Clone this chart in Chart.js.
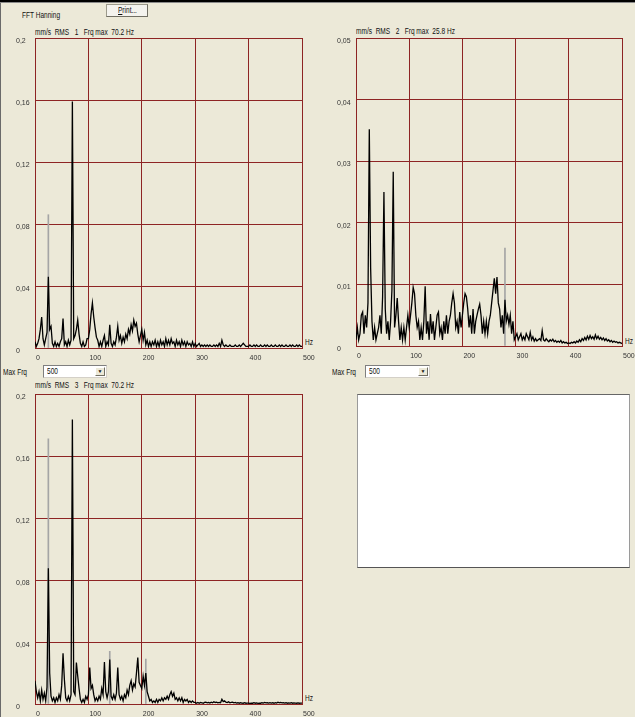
<!DOCTYPE html>
<html>
<head>
<meta charset="utf-8">
<script src="https://cdn.jsdelivr.net/npm/chart.js@4.4.1/dist/chart.umd.min.js"></script>
<style>
  body { margin: 0; width: 635px; height: 717px; background: #ece9d8; position: relative; overflow: hidden;
         font-family: Arial, 'Liberation Sans', sans-serif; font-size: 8.5px; color: #111; }
  .abs { position: absolute; white-space: pre; }
  .sq { transform: scaleX(0.77); transform-origin: 0 0; }
  canvas { position: absolute; }
  .btn { position: absolute; box-sizing: border-box; background: #f4f3ee; border: 1px solid #9c9a8c;
         border-right-color: #716f64; border-bottom-color: #716f64; text-align: center; line-height: 11px; }
  .combo { position: absolute; box-sizing: border-box; background: #fff; border: 1px solid #7f7f7f;
           border-right-color: #d4d0c8; border-bottom-color: #d4d0c8; height: 13px; line-height: 11px; padding-left: 3px; }
  .arrow { position: absolute; right: 1px; top: 1px; width: 10px; height: 9px; box-sizing: border-box; background: #ece9d8;
           border: 1px solid #fff; border-right-color: #716f64; border-bottom-color: #716f64; font-size: 5px; line-height: 7px; text-align: center; }
  .panel { position: absolute; box-sizing: border-box; background: #fff; border: 1px solid #9a9a9a;
           border-bottom-color: #555; border-top-color: #666; }
</style>
</head>
<body>
<div class="abs" style="left:0;top:0;width:635px;height:2px;background:#000"></div>
<div class="abs" style="left:0;top:2px;width:635px;height:1px;background:#8a8a8a"></div>
<div class="abs" style="left:0;top:3px;width:1px;height:714px;background:#6a6a6a"></div>

<div class="abs sq" style="left:22px;top:10px">FFT Hanning</div>
<div class="btn" style="left:106px;top:4px;width:42px;height:13px"><span class="abs sq" style="left:11px;top:0"><u>P</u>rint...</span></div>

<div class="abs sq" style="left:35px;top:27px">mm/s  RMS   1   Frq max  70.2 Hz</div>
<div class="abs sq" style="left:356px;top:26px">mm/s  RMS   2   Frq max  25.8 Hz</div>
<div class="abs sq" style="left:35px;top:380px">mm/s  RMS   3   Frq max  70.2 Hz</div>

<div class="abs sq" style="left:305px;top:337px">Hz</div>
<div class="abs sq" style="left:625px;top:336px">Hz</div>
<div class="abs sq" style="left:305px;top:693px">Hz</div>

<div class="abs sq" style="left:3px;top:367px">Max Frq</div>
<div class="combo" style="left:43px;top:365px;width:64px"><span class="abs sq" style="left:3px;top:0">500</span><div class="arrow">&#9660;</div></div>
<div class="abs sq" style="left:332px;top:367px">Max Frq</div>
<div class="combo" style="left:365px;top:365px;width:65px"><span class="abs sq" style="left:3px;top:0">500</span><div class="arrow">&#9660;</div></div>

<div class="panel" style="left:357px;top:394px;width:273px;height:174px"></div>

<canvas id="spec1" width="320" height="340" style="left:0;top:30px"></canvas>
<canvas id="spec2" width="315" height="340" style="left:320px;top:30px"></canvas>
<canvas id="spec3" width="320" height="331" style="left:0;top:386px"></canvas>

<script>
// frequency bins, Hz
const freqHz = [
  0, 2.5, 5, 7.5, 10, 12.5, 15, 17.5, 20, 22.5, 25, 27.5, 30, 32.5, 35, 37.5, 40, 42.5, 45, 47.5,
  50, 52.5, 55, 57.5, 60, 62.5, 65, 67.5, 70, 72.5, 75, 77.5, 80, 82.5, 85, 87.5, 90, 92.5, 95, 97.5,
  100, 102.5, 105, 107.5, 110, 112.5, 115, 117.5, 120, 122.5, 125, 127.5, 130, 132.5, 135, 137.5, 140, 142.5, 145, 147.5,
  150, 152.5, 155, 157.5, 160, 162.5, 165, 167.5, 170, 172.5, 175, 177.5, 180, 182.5, 185, 187.5, 190, 192.5, 195, 197.5,
  200, 202.5, 205, 207.5, 210, 212.5, 215, 217.5, 220, 222.5, 225, 227.5, 230, 232.5, 235, 237.5, 240, 242.5, 245, 247.5,
  250, 252.5, 255, 257.5, 260, 262.5, 265, 267.5, 270, 272.5, 275, 277.5, 280, 282.5, 285, 287.5, 290, 292.5, 295, 297.5,
  300, 302.5, 305, 307.5, 310, 312.5, 315, 317.5, 320, 322.5, 325, 327.5, 330, 332.5, 335, 337.5, 340, 342.5, 345, 347.5,
  350, 352.5, 355, 357.5, 360, 362.5, 365, 367.5, 370, 372.5, 375, 377.5, 380, 382.5, 385, 387.5, 390, 392.5, 395, 397.5,
  400, 402.5, 405, 407.5, 410, 412.5, 415, 417.5, 420, 422.5, 425, 427.5, 430, 432.5, 435, 437.5, 440, 442.5, 445, 447.5,
  450, 452.5, 455, 457.5, 460, 462.5, 465, 467.5, 470, 472.5, 475, 477.5, 480, 482.5, 485, 487.5, 490, 492.5, 495, 497.5,
  500
];

// channel 1, mm/s RMS
const rms1 = [
  0.004, 0.001, 0.003, 0.006, 0.012, 0.020, 0.006, 0.002, 0.006, 0.010, 0.046, 0.012, 0.014, 0.003, 0.001, 0.004, 0.001, 0.003, 0.001, 0.004,
  0.006, 0.019, 0.002, 0.004, 0.001, 0.005, 0.002, 0.005, 0.159, 0.006, 0.008, 0.012, 0.018, 0.009, 0.003, 0.001, 0.004, 0.001, 0.002, 0.006,
  0.006, 0.012, 0.022, 0.029, 0.020, 0.013, 0.007, 0.005, 0.001, 0.004, 0.001, 0.005, 0.008, 0.001, 0.004, 0.002, 0.015, 0.003, 0.001, 0.004,
  0.002, 0.007, 0.014, 0.005, 0.008, 0.003, 0.007, 0.004, 0.009, 0.006, 0.012, 0.009, 0.015, 0.011, 0.018, 0.014, 0.016, 0.009, 0.004, 0.008,
  0.012, 0.005, 0.010, 0.002, 0.005, 0.001, 0.004, 0.001, 0.004, 0.002, 0.005, 0.001, 0.004, 0.001, 0.005, 0.002, 0.004, 0.001, 0.006, 0.002,
  0.005, 0.002, 0.006, 0.003, 0.004, 0.001, 0.005, 0.002, 0.004, 0.001, 0.005, 0.002, 0.004, 0.001, 0.004, 0.002, 0.003, 0.001, 0.004, 0.001,
  0.003, 0.001, 0.002, 0.003, 0.001, 0.002, 0.001, 0.002, 0.001, 0.002, 0.001, 0.002, 0.001, 0.001, 0.002, 0.001, 0.002, 0.001, 0.003, 0.001,
  0.005, 0.002, 0.001, 0.002, 0.001, 0.001, 0.002, 0.001, 0.001, 0.001, 0.002, 0.001, 0.001, 0.002, 0.001, 0.002, 0.003, 0.002, 0.001, 0.001,
  0.001, 0.002, 0.001, 0.001, 0.002, 0.001, 0.002, 0.001, 0.001, 0.002, 0.001, 0.001, 0.002, 0.001, 0.002, 0.001, 0.001, 0.002, 0.001, 0.001,
  0.002, 0.001, 0.001, 0.002, 0.001, 0.002, 0.001, 0.001, 0.002, 0.001, 0.001, 0.002, 0.001, 0.002, 0.001, 0.001, 0.002, 0.001, 0.002, 0.001,
  0.001
];

// channel 2, mm/s RMS
const rms2 = [
  0.001, 0.003, 0.001, 0.002, 0.005, 0.0055, 0.002, 0.005, 0.003, 0.007, 0.0352, 0.0127, 0.004, 0.001, 0.003, 0.001, 0.002, 0.003, 0.005, 0.002,
  0.008, 0.025, 0.006, 0.002, 0.004, 0.001, 0.004, 0.009, 0.0283, 0.003, 0.005, 0.0078, 0.004, 0.001, 0.003, 0.001, 0.003, 0.001, 0.003, 0.005,
  0.003, 0.005, 0.007, 0.0095, 0.0085, 0.005, 0.003, 0.004, 0.001, 0.003, 0.001, 0.004, 0.0097, 0.002, 0.004, 0.001, 0.0052, 0.002, 0.004, 0.001,
  0.003, 0.005, 0.0055, 0.002, 0.003, 0.001, 0.004, 0.002, 0.005, 0.002, 0.004, 0.005, 0.007, 0.0085, 0.007, 0.003, 0.004, 0.002, 0.0055, 0.003,
  0.005, 0.007, 0.0085, 0.008, 0.006, 0.003, 0.005, 0.002, 0.006, 0.002, 0.004, 0.005, 0.006, 0.0068, 0.005, 0.002, 0.004, 0.002, 0.004, 0.002,
  0.004, 0.005, 0.007, 0.009, 0.011, 0.0085, 0.0112, 0.007, 0.006, 0.003, 0.005, 0.002, 0.0075, 0.004, 0.005, 0.0035, 0.005, 0.002, 0.004, 0.001,
  0.0015, 0.002, 0.001, 0.0015, 0.002, 0.001, 0.0015, 0.001, 0.002, 0.0015, 0.001, 0.0022, 0.001, 0.0015, 0.0008, 0.0012, 0.0008, 0.001, 0.0012, 0.0009,
  0.0025, 0.001, 0.0008, 0.0012, 0.0009, 0.0007, 0.001, 0.0008, 0.0011, 0.0007, 0.0009, 0.0006, 0.0008, 0.0006, 0.0009, 0.0005, 0.0007, 0.0005, 0.0006, 0.0004,
  0.0005, 0.0004, 0.0006, 0.0005, 0.0007, 0.0005, 0.0008, 0.0006, 0.001, 0.0007, 0.0012, 0.0009, 0.0014, 0.001, 0.0016, 0.0011, 0.0017, 0.0012, 0.0015, 0.0011,
  0.0018, 0.0012, 0.0016, 0.0011, 0.0014, 0.001, 0.0013, 0.0009, 0.0012, 0.0008, 0.001, 0.0007, 0.0009, 0.0006, 0.0008, 0.0006, 0.0007, 0.0005, 0.0006, 0.0005,
  0.0004
];

// channel 3, mm/s RMS
const rms3 = [
  0.015, 0.008, 0.004, 0.008, 0.002, 0.009, 0.003, 0.007, 0.002, 0.011, 0.0875, 0.020, 0.005, 0.002, 0.004, 0.001, 0.004, 0.002, 0.006, 0.003,
  0.012, 0.0327, 0.016, 0.004, 0.002, 0.005, 0.002, 0.006, 0.1836, 0.008, 0.006, 0.0267, 0.018, 0.010, 0.003, 0.001, 0.003, 0.001, 0.005, 0.003,
  0.006, 0.0236, 0.010, 0.012, 0.006, 0.002, 0.004, 0.002, 0.005, 0.003, 0.010, 0.006, 0.027, 0.008, 0.004, 0.008, 0.0287, 0.005, 0.003, 0.006,
  0.003, 0.007, 0.0236, 0.006, 0.003, 0.005, 0.002, 0.006, 0.004, 0.009, 0.006, 0.012, 0.015, 0.009, 0.013, 0.011, 0.020, 0.030, 0.014, 0.012,
  0.010, 0.018, 0.012, 0.020, 0.008, 0.005, 0.002, 0.003, 0.001, 0.002, 0.001, 0.003, 0.001, 0.003, 0.002, 0.004, 0.002, 0.004, 0.003, 0.005,
  0.003, 0.006, 0.008, 0.005, 0.007, 0.003, 0.004, 0.002, 0.004, 0.002, 0.004, 0.001, 0.003, 0.002, 0.003, 0.001, 0.002, 0.001, 0.002, 0.001,
  0.001, 0.0005, 0.001, 0.0005, 0.001, 0.0008, 0.0005, 0.001, 0.0012, 0.0008, 0.001, 0.0006, 0.0012, 0.0008, 0.0015, 0.001, 0.0012, 0.0008, 0.001, 0.0008,
  0.003, 0.0015, 0.002, 0.0012, 0.001, 0.0015, 0.0008, 0.001, 0.0012, 0.0008, 0.001, 0.0006, 0.0008, 0.0005, 0.0008, 0.0006, 0.0005, 0.0008, 0.0005, 0.0006,
  0.0006, 0.0004, 0.0006, 0.0005, 0.0008, 0.0005, 0.0007, 0.0004, 0.0006, 0.0005, 0.0008, 0.0006, 0.001, 0.0007, 0.0008, 0.0006, 0.0009, 0.0006, 0.0008, 0.0005,
  0.0009, 0.0006, 0.0012, 0.0008, 0.001, 0.0007, 0.0009, 0.0006, 0.0008, 0.0005, 0.0007, 0.0006, 0.0008, 0.0005, 0.0007, 0.0006, 0.0005, 0.0007, 0.0005, 0.0006,
  0.0005
];

// peak-hold lines shown in grey behind the live trace
const holdHz1 = [25];
const holdVal1 = [0.086];
const holdHz2 = [280];
const holdVal2 = [0.0159];
const holdHz3 = [25, 140, 207.5];
const holdVal3 = [0.171, 0.034, 0.029];

const xTicks = [0, 100, 200, 300, 400, 500];
const xLabels = ['0', '100', '200', '300', '400', '500'];
const yTicks1 = [0, 0.04, 0.08, 0.12, 0.16, 0.2];
const yLabels1 = ['0', '0,04', '0,08', '0,12', '0,16', '0,2'];
const yTicks2 = [0, 0.01, 0.02, 0.03, 0.04, 0.05];
const yLabels2 = ['0', '0,01', '0,02', '0,03', '0,04', '0,05'];

const gridRed = '#8e2424';
const tickFont = { family: "Arial, 'Liberation Sans', sans-serif", size: 7 };

function spectrum(id, values, holdHz, holdVal, yTicks, yLabels, box) {
  const trace = values.map((v, i) => ({ x: freqHz[i], y: v }));
  const hold = holdHz.map((f, i) => ({ x: f, y: holdVal[i] }));

  return new Chart(document.getElementById(id), {
    type: 'line',
    data: {
      datasets: [
        { data: trace, borderColor: '#000', borderWidth: 1.3, pointRadius: 0, tension: 0 },
        { type: 'bar', data: hold, backgroundColor: '#a5a5a5', barThickness: 1 }
      ]
    },
    options: {
      responsive: false,
      animation: false,
      events: [],
      layout: { padding: box.padding },
      plugins: { legend: { display: false }, tooltip: { enabled: false } },
      scales: {
        x: {
          type: 'linear',
          min: 0,
          max: 500,
          offset: false,
          afterBuildTicks: s => { s.ticks = xTicks.map(v => ({ value: v })); },
          afterFit: s => { s.height = box.xHeight; s.paddingLeft = 0; s.paddingRight = 0; },
          ticks: {
            callback: (v, i) => xLabels[i],
            align: 'start',
            labelOffset: 1,
            padding: 6,
            maxRotation: 0,
            autoSkip: false,
            font: tickFont,
            color: '#333'
          },
          grid: { color: gridRed, drawTicks: false, offset: false },
          border: { color: gridRed }
        },
        y: {
          min: 0,
          max: yTicks[yTicks.length - 1],
          afterBuildTicks: s => { s.ticks = yTicks.map(v => ({ value: v })); },
          afterFit: s => { s.width = box.yWidth; s.paddingTop = 0; s.paddingBottom = 0; },
          ticks: {
            callback: (v, i) => yLabels[i],
            crossAlign: 'far',
            labelOffset: 3,
            padding: 0,
            autoSkip: false,
            font: tickFont,
            color: '#333'
          },
          grid: { color: gridRed, drawTicks: false },
          border: { color: gridRed }
        }
      }
    }
  });
}

spectrum('spec1', rms1, holdHz1, holdVal1, yTicks1, yLabels1,
  { padding: { left: 16, top: 8, right: 18, bottom: 0 }, yWidth: 19, xHeight: 22 });
spectrum('spec2', rms2, holdHz2, holdVal2, yTicks2, yLabels2,
  { padding: { left: 17, top: 8, right: 13, bottom: 0 }, yWidth: 19, xHeight: 24 });
spectrum('spec3', rms3, holdHz3, holdVal3, yTicks1, yLabels1,
  { padding: { left: 16, top: 8, right: 18, bottom: 0 }, yWidth: 19, xHeight: 13 });
</script>
</body>
</html>
